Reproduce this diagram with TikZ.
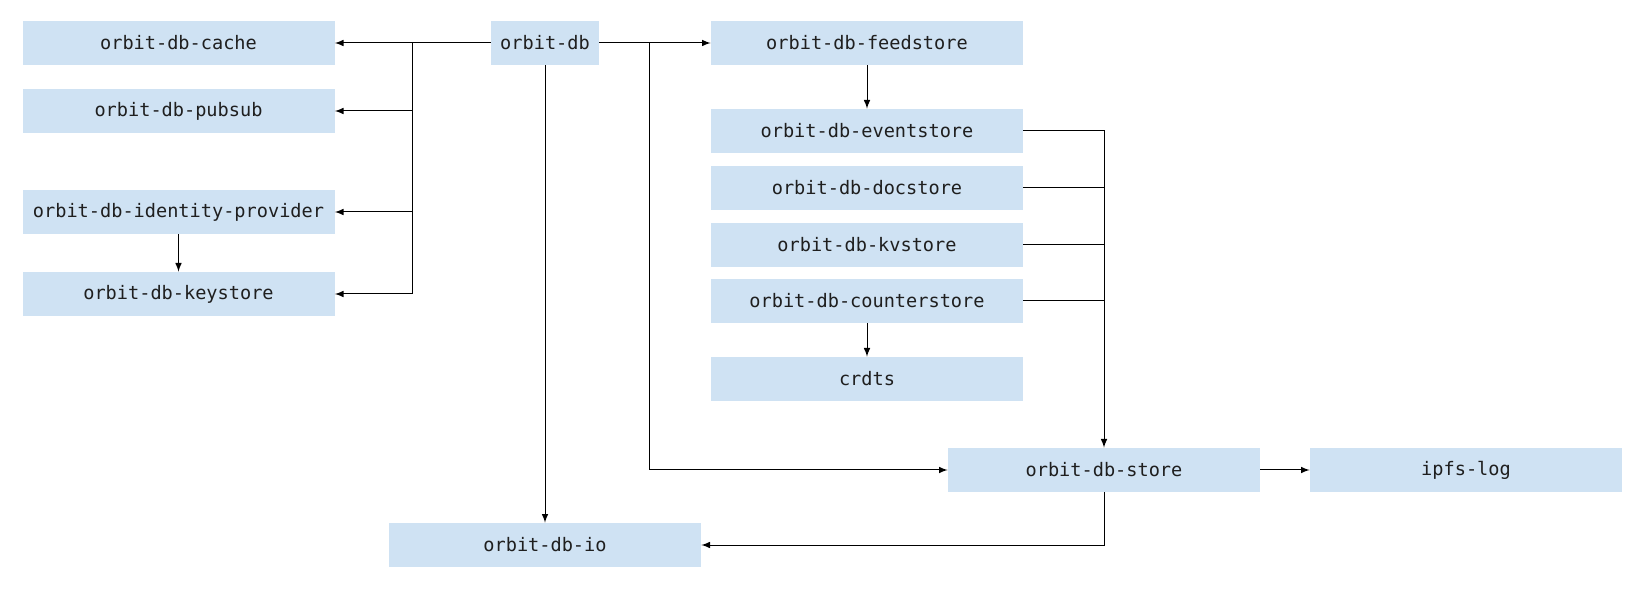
\documentclass[tikz,border=0pt]{standalone}
\usepackage{fontspec}
\setmonofont{DejaVu Sans Mono}
\usepackage{tikz}
\usetikzlibrary{positioning,arrows}
\definecolor{modblue}{HTML}{CFE2F3}

\begin{document}
\begin{tikzpicture}[
x=0.5pt,y=-0.5pt,
module/.style={
  fill=modblue,
  inner sep=0pt,
  minimum width=156pt,
  minimum height=22pt,
  text=black!88,
  font=\ttfamily\fontsize{9.3}{11}\selectfont
},
link/.style={
  line width=0.5pt,
  -latex
},
plain/.style={
  line width=0.5pt
}
]
\useasboundingbox (0,0) rectangle (1647,592);

% left column
\node[module] (cache) at (178.5,43) {orbit-db-cache};
\node[module] (pubsub) at (178.5,111) {orbit-db-pubsub};
\node[module] (idp) at (178.5,212) {orbit-db-identity-provider};
\node[module] (keystore) at (178.5,294) {orbit-db-keystore};

% root
\node[module,minimum width=54pt] (odb) at (545,43) {orbit-db};

% stores
\node[module] (feed) at (867,43) {orbit-db-feedstore};
\node[module] (event) at (867,131) {orbit-db-eventstore};
\node[module] (doc) at (867,188) {orbit-db-docstore};
\node[module] (kv) at (867,245) {orbit-db-kvstore};
\node[module] (counter) at (867,301) {orbit-db-counterstore};
\node[module] (crdts) at (867,379) {crdts};

% bottom row
\node[module] (store) at (1104,470) {orbit-db-store};
\node[module] (ipfs) at (1466,470) {ipfs-log};
\node[module] (io) at (545,545) {orbit-db-io};

\coordinate (lbus) at (412,43);
\coordinate (rbus) at (649,43);

\draw[link] (odb) -- (cache);
\draw[link] (lbus) |- (pubsub.east);
\draw[link] (lbus) |- (idp.east);
\draw[link] (lbus) |- (keystore.east);
\draw[link] (idp) -- (keystore);

\draw[link] (odb) -- (feed);
\draw[link] (rbus) |- (store.west);
\draw[link] (odb) -- (io);

\draw[link] (feed) -- (event);
\draw[link] (counter) -- (crdts);
\draw[link] (event.east) -| (store.north);
\draw[plain] (doc.east) -- (doc.east -| store.north);
\draw[plain] (kv.east) -- (kv.east -| store.north);
\draw[plain] (counter.east) -- (counter.east -| store.north);

\draw[link] (store) -- (ipfs);
\draw[link] (store.south) |- (io.east);
\end{tikzpicture}
\end{document}
